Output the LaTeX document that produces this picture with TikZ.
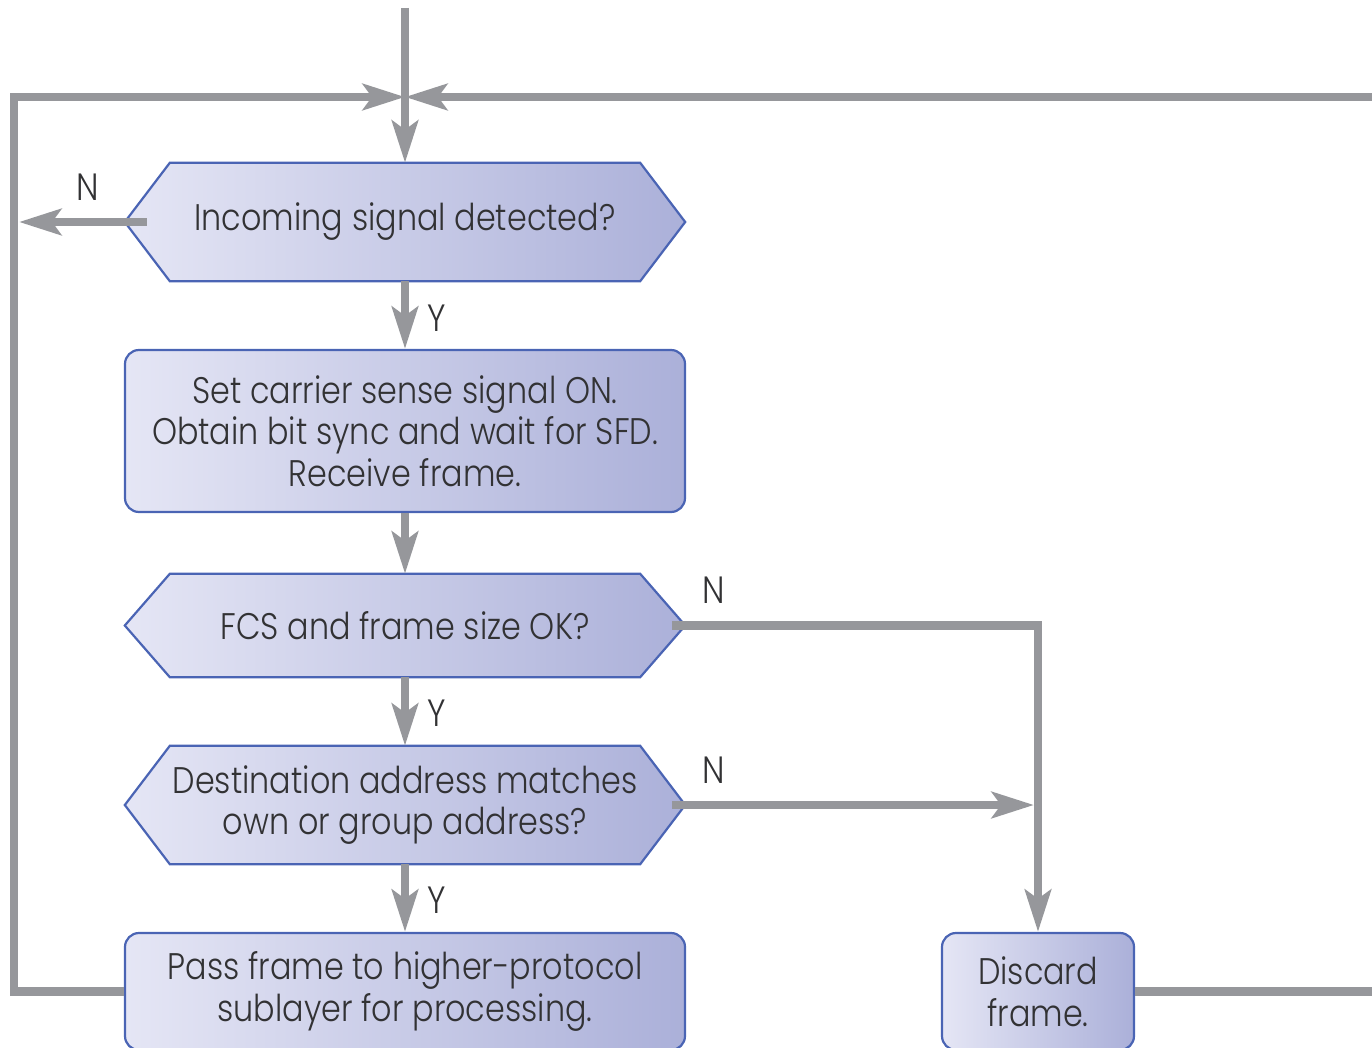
\documentclass[tikz,border=0pt]{standalone}
\usepackage{fontspec}
\setmainfont{Poppins Light}[FakeStretch=0.86]
\usetikzlibrary{arrows.meta,backgrounds}
\definecolor{arrowgray}{RGB}{150,151,155}
\definecolor{borderblue}{RGB}{74,100,180}
\definecolor{fillL}{RGB}{229,230,245}
\definecolor{fillR}{RGB}{171,176,217}
\definecolor{textgray}{RGB}{50,50,52}
\begin{document}
\begin{tikzpicture}[x=1pt,y=-1pt,
  conn/.style={draw=arrowgray, line width=8.5pt, line join=miter},
  arr/.style={conn, -{Stealth[length=42pt,width=26pt,inset=9pt]}},
  boxshade/.style={left color=fillL, right color=fillR, draw=borderblue, line width=2.2pt, line join=miter},
  txt/.style={align=center, font=\fontsize{37}{41.5}\selectfont, text=textgray, inner sep=0pt},
  rbox/.style={rectangle, rounded corners=14pt, boxshade, txt},
  hexnode/.style={txt, minimum width=470pt},
  lab/.style={font=\fontsize{38}{40}\selectfont, text=textgray, inner sep=0pt}]
\useasboundingbox (0,0) rectangle (1372,1048);
\clip (0,0) rectangle (1372,1048);

% nodes
\node[hexnode, minimum height=118pt] (inc) at (405,222) {Incoming signal detected?};
\node[rbox, minimum width=560pt, minimum height=162pt] (set) at (405,431)
  {Set carrier sense signal ON.\\Obtain bit sync and wait for SFD.\\Receive frame.};
\node[hexnode, minimum height=103pt] (fcs) at (405,625.5) {FCS and frame size OK?};
\node[hexnode, minimum height=118pt] (dest) at (405,805) {Destination address matches\\own or group address?};
\node[rbox, minimum width=560pt, minimum height=117pt] (pass) at (405,991.5)
  {Pass frame to higher-protocol\\sublayer for processing.};
\node[rbox, minimum width=192pt, minimum height=117pt] (disc) at (1038,991.5)
  {Discard\\frame.};

\begin{scope}[on background layer]
  \foreach \n in {inc,fcs,dest}{
    \path[boxshade] (\n.north west) -- (\n.north east) -- ([xshift=45pt]\n.east)
      -- (\n.south east) -- (\n.south west) -- ([xshift=-45pt]\n.west) -- cycle;
  }
\end{scope}

% coordinates
\coordinate (top) at (405,8);
\coordinate (j) at (405,97);
\coordinate (lc) at (14,97);
\coordinate (rc) at (1385,97);
\coordinate (ln) at (19,222);
\coordinate (mj) at (1034,805);

% connectors
\draw[arr] (top) -- (inc.north);
\draw[arr] (pass.west) -| (lc) -- (j);
\draw[arr] (disc.east) -| (rc) -- (j);
\draw[arr] ([xshift=-23pt]inc.west) -- (ln);
\draw[arr] (inc.south) -- (set.north);
\draw[arr] (set.south) -- (fcs.north);
\draw[arr] (fcs.south) -- (dest.north);
\draw[arr] (dest.south) -- (pass.north);
\draw[arr] ([xshift=32pt]fcs.east) -| (disc.north);
\draw[arr] ([xshift=32pt]dest.east) -- (mj);

% labels
\node[lab] (n1) at (88,187) {N};
\node[lab] (y1) at (437,318) {Y};
\node[lab] (n2) at (714,590) {N};
\node[lab] (y2) at (437,713) {Y};
\node[lab] (n3) at (714,770) {N};
\node[lab] (y3) at (437,900) {Y};
\end{tikzpicture}
\end{document}
